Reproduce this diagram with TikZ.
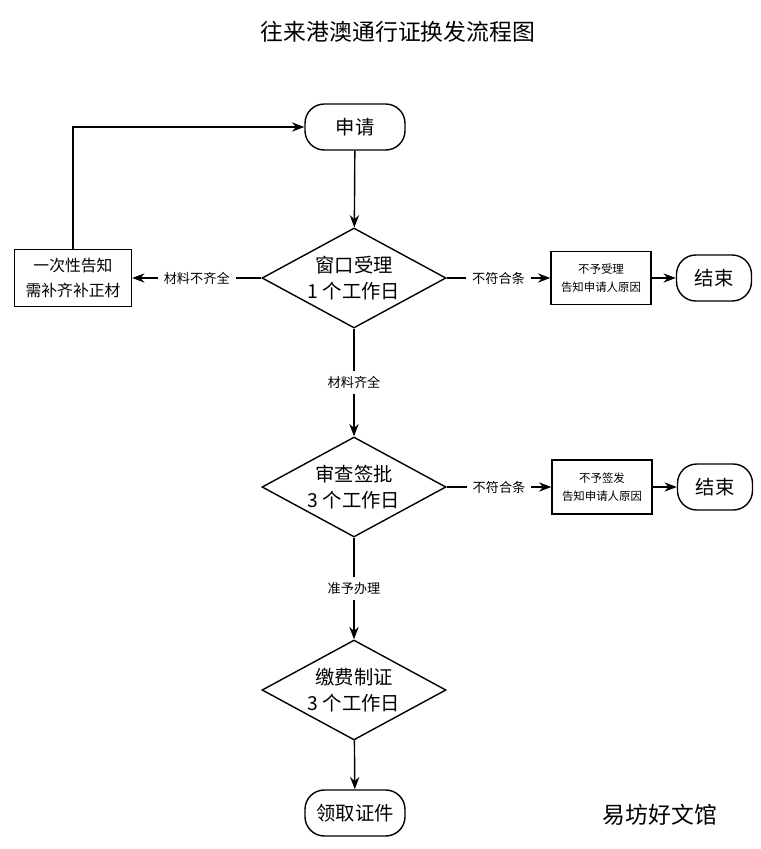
\documentclass[tikz,border=0pt]{standalone}
\usepackage{fontspec}
\setmainfont{Noto Sans CJK SC}
\usetikzlibrary{shapes.geometric,arrows.meta,positioning}
\tikzset{%
    term/.style={draw,thick,rounded corners=11pt,minimum width=100\px,minimum height=46\px,font=\fontsize{11}{13}\selectfont},
    dec/.style={draw,thick,diamond,aspect=1.84,inner sep=0pt,minimum width=184\px,minimum height=100\px,align=center,font=\fontsize{11}{15}\selectfont},
    box/.style={draw,thick,align=center,font=\fontsize{6.5}{10}\selectfont},
    flow/.style={thick,-{Stealth[length=7pt]}},
    lab/.style={fill=white,font=\fontsize{7.5}{9}\selectfont},
}
\newlength{\px}\setlength{\px}{0.02cm}
\begin{document}
\begin{tikzpicture}[x=0.02cm,y=-0.02cm]
    \useasboundingbox (0,0) rectangle (761,849);
    \node[font=\fontsize{13}{15}\selectfont] (title) at (398,32) {往来港澳通行证换发流程图};

    % 主线
    \node[term] (apply) at (355,127) {申请};
    \node[dec] (d1) at (354,278) {窗口受理\\1 个工作日};
    \node[dec] (d2) at (354,487) {审查签批\\3 个工作日};
    \node[dec] (d3) at (354,690) {缴费制证\\3 个工作日};
    \node[term] (get) at (355,813) {领取证件};

    % 旁支
    \node[box,minimum width=117\px,minimum height=57\px,font=\fontsize{9}{14}\selectfont] (notice) at (73,278) {一次性告知\\需补齐补正材};
    \node[box,minimum width=100\px,minimum height=53\px] (rej1) at (601,278) {不予受理\\告知申请人原因};
    \node[box,minimum width=100\px,minimum height=54\px] (rej2) at (602,487) {不予签发\\告知申请人原因};
    \node[term,minimum width=75\px] (end1) at (714,278) {结束};
    \node[term,minimum width=75\px] (end2) at (715,487) {结束};

    \draw[flow] (apply) -- (d1);
    \draw[flow] (d1) -- node[lab] {材料齐全} (d2);
    \draw[flow] (d2) -- node[lab] {准予办理} (d3);
    \draw[flow] (d3) -- (get);
    \draw[flow] (d1) -- node[lab] {材料不齐全} (notice);
    \draw[flow] (notice.north) |- (apply.west);
    \draw[flow] (d1) -- node[lab] {不符合条} (rej1);
    \draw[flow] (rej1) -- (end1);
    \draw[flow] (d2) -- node[lab] {不符合条} (rej2);
    \draw[flow] (rej2) -- (end2);

    \node[font=\fontsize{13}{15}\selectfont] (mark) at (660,815) {易坊好文馆};
\end{tikzpicture}
\end{document}
